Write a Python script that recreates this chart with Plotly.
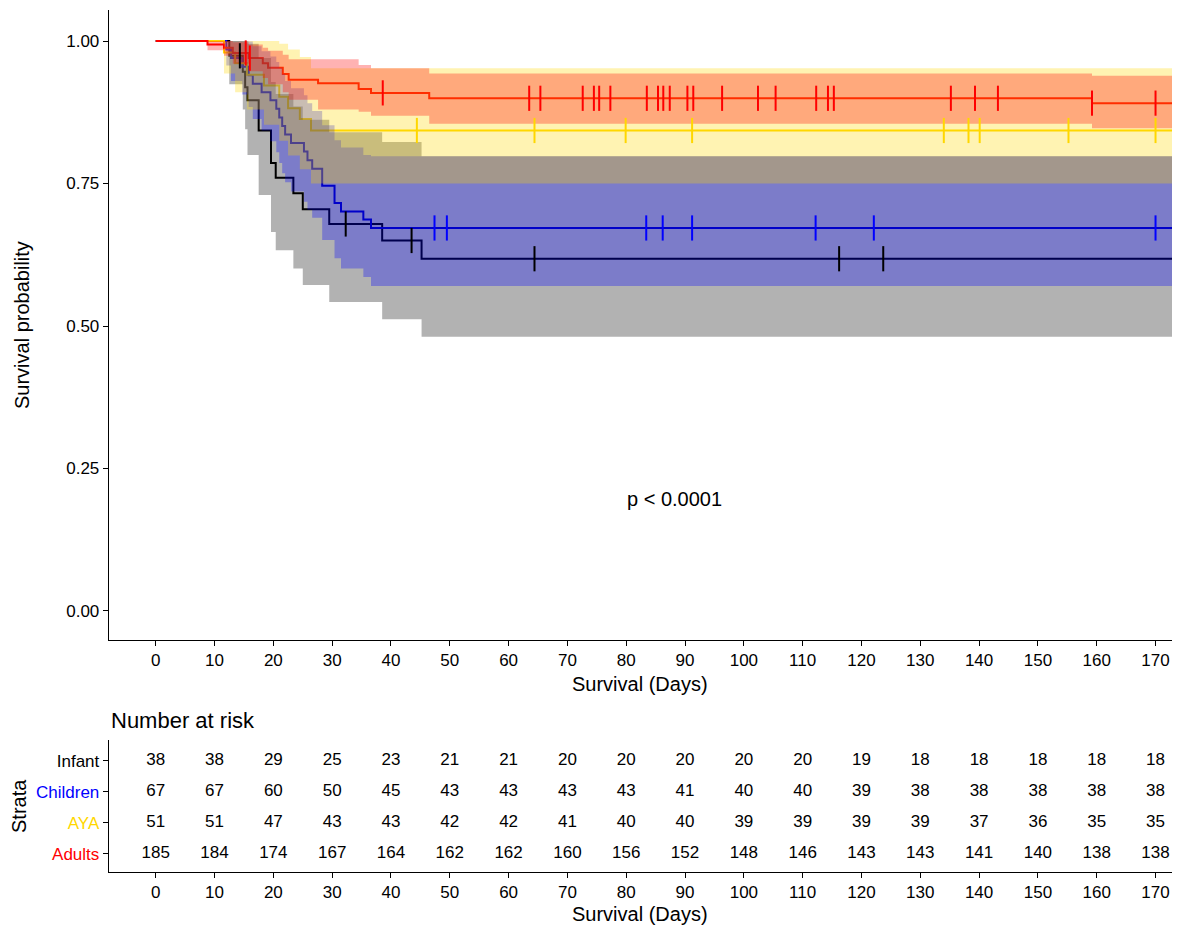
import numpy as np
import plotly.graph_objects as go

# ---------------- data ----------------
strata = ["Infant", "Children", "AYA", "Adults"]

infant_time = [0, 12.5, 14.8, 15.2, 15.6, 17.5, 19.6, 20.4, 23.4, 25.0, 29.5, 38.5, 45.2]
infant_surv = [1.0, 0.974, 0.946, 0.919, 0.896, 0.843, 0.786, 0.760, 0.733, 0.705, 0.679, 0.650, 0.618]
infant_lower = [1.0, 0.924, 0.880, 0.845, 0.800, 0.730, 0.665, 0.633, 0.601, 0.572, 0.542, 0.512, 0.481]
infant_upper = [1.0, 1.0, 1.0, 1.0, 0.995, 0.970, 0.928, 0.907, 0.885, 0.862, 0.840, 0.823, 0.798]
infant_censor = [14.3, 32.3, 43.5, 64.4, 116.2, 123.7]

children_time = [0, 12.0, 12.8, 14.7, 15.8, 16.5, 18.0, 19.5, 20.5, 21.0, 21.5, 22.0, 23.0,
                 25.2, 25.8, 26.6, 28.3, 30.4, 31.5, 35.3, 36.6]
children_surv = [1.0, 0.985, 0.970, 0.955, 0.940, 0.925, 0.910, 0.896, 0.881, 0.866, 0.851, 0.836,
                 0.821, 0.806, 0.791, 0.776, 0.746, 0.716, 0.701, 0.687, 0.672]
children_lower = [1.0, 0.957, 0.930, 0.906, 0.884, 0.863, 0.843, 0.824, 0.805, 0.786, 0.768, 0.752,
                  0.736, 0.718, 0.704, 0.690, 0.651, 0.619, 0.601, 0.586, 0.570]
children_upper = [1.0, 1.0, 1.0, 1.0, 0.999, 0.991, 0.982, 0.973, 0.963, 0.953, 0.942, 0.930,
                  0.917, 0.905, 0.891, 0.877, 0.852, 0.826, 0.813, 0.800, 0.798]
children_censor = [47.4, 49.5, 83.4, 86.2, 91.2, 112.2, 122.1, 170.0]

aya_time = [0, 11.6, 13.5, 15.5, 18.4, 21.0, 22.5, 24.5, 26.4]
aya_surv = [1.0, 0.980, 0.961, 0.941, 0.922, 0.902, 0.882, 0.863, 0.843]
aya_lower = [1.0, 0.943, 0.910, 0.880, 0.853, 0.825, 0.799, 0.775, 0.750]
aya_upper = [1.0, 1.0, 1.0, 1.0, 1.0, 0.995, 0.985, 0.972, 0.952]
aya_censor = [44.4, 64.4, 79.9, 91.2, 134.0, 138.2, 140.1, 155.2, 170.0]

adults_time = [0, 8.8, 11.6, 13.1, 15.8, 18.2, 19.1, 21.6, 22.6, 27.6, 34.5, 36.6, 46.5, 159.2]
adults_surv = [1.0, 0.994, 0.988, 0.979, 0.970, 0.961, 0.953, 0.942, 0.932, 0.926, 0.916, 0.909, 0.8995, 0.891]
adults_lower = [1.0, 0.984, 0.974, 0.960, 0.947, 0.935, 0.924, 0.910, 0.897, 0.880, 0.876, 0.869, 0.855, 0.847]
adults_upper = [1.0, 1.0, 1.0, 0.998, 0.994, 0.988, 0.983, 0.976, 0.968, 0.968, 0.958, 0.952, 0.943, 0.939]
adults_censor = [15.3, 16.0, 38.6, 63.5, 65.4, 72.6, 74.5, 75.4, 77.3, 83.5, 85.4, 86.3, 87.4,
                 90.4, 91.4, 96.3, 102.4, 105.4, 112.3, 114.3, 115.3, 135.2, 139.3, 143.2,
                 159.2, 170.0, 173.0]

risk_times = [0, 10, 20, 30, 40, 50, 60, 70, 80, 90, 100, 110, 120, 130, 140, 150, 160, 170]
risk_infant = [38, 38, 29, 25, 23, 21, 21, 20, 20, 20, 20, 20, 19, 18, 18, 18, 18, 18]
risk_children = [67, 67, 60, 50, 45, 43, 43, 43, 43, 41, 40, 40, 39, 38, 38, 38, 38, 38]
risk_aya = [51, 51, 47, 43, 43, 42, 42, 41, 40, 40, 39, 39, 39, 39, 37, 36, 35, 35]
risk_adults = [185, 184, 174, 167, 164, 162, 162, 160, 156, 152, 148, 146, 143, 143, 141, 140, 138, 138]

y_ticks = [0, 0.25, 0.5, 0.75, 1.0]
y_tick_labels = ["0.00", "0.25", "0.50", "0.75", "1.00"]
p_text = "p < 0.0001"

# ---------------- style ----------------
line_col = {"Infant": "#000000", "Children": "#0000FF", "AYA": "#FFD700", "Adults": "#FF0000"}
fill_col = {"Infant": "rgba(0,0,0,0.3)", "Children": "rgba(0,0,255,0.3)",
            "AYA": "rgba(255,215,0,0.3)", "Adults": "rgba(255,0,0,0.3)"}
curves = {
    "Infant": (infant_time, infant_surv, infant_lower, infant_upper, infant_censor),
    "Children": (children_time, children_surv, children_lower, children_upper, children_censor),
    "AYA": (aya_time, aya_surv, aya_lower, aya_upper, aya_censor),
    "Adults": (adults_time, adults_surv, adults_lower, adults_upper, adults_censor),
}
risk = {"Infant": risk_infant, "Children": risk_children, "AYA": risk_aya, "Adults": risk_adults}
row_pos = {"Infant": 4, "Children": 3, "AYA": 2, "Adults": 1}

X_MAX = 173.0
X_RANGE = [-8.0, 172.8]
FONT = "Liberation Sans, Arial, sans-serif"
W, H = 1178, 926


def ext(t, v):
    return list(t) + [X_MAX], list(v) + [v[-1]]


fig = go.Figure()

# survival lines (drawn first, ribbons on top as in survminer)
for s in strata:
    t, sv, lo, up, cen = curves[s]
    xx, yy = ext(t, sv)
    fig.add_trace(go.Scatter(x=xx, y=yy, mode="lines", line=dict(color=line_col[s], width=2, shape="hv"),
                             hoverinfo="skip", showlegend=False, xaxis="x", yaxis="y"))

# confidence ribbons
for s in strata:
    t, sv, lo, up, cen = curves[s]
    xx, ylo = ext(t, lo)
    _, yup = ext(t, up)
    fig.add_trace(go.Scatter(x=xx, y=ylo, mode="lines", line=dict(width=0, shape="hv", color=fill_col[s]),
                             hoverinfo="skip", showlegend=False, xaxis="x", yaxis="y"))
    fig.add_trace(go.Scatter(x=xx, y=yup, mode="lines", line=dict(width=0, shape="hv", color=fill_col[s]),
                             fill="tonexty", fillcolor=fill_col[s],
                             hoverinfo="skip", showlegend=False, xaxis="x", yaxis="y"))

# censor marks
for s in strata:
    t, sv, lo, up, cen = curves[s]
    idx = np.searchsorted(np.array(t), np.array(cen), side="right") - 1
    cy = np.array(sv)[idx]
    fig.add_trace(go.Scatter(x=cen, y=cy, mode="markers",
                             marker=dict(symbol="line-ns", size=18,
                                         line=dict(color=line_col[s], width=2)),
                             hoverinfo="skip", showlegend=False, cliponaxis=False,
                             xaxis="x", yaxis="y"))

# risk table text
for s in strata:
    fig.add_trace(go.Scatter(x=risk_times, y=[row_pos[s]] * len(risk_times), mode="text",
                             text=[str(v) for v in risk[s]],
                             textfont=dict(family=FONT, size=17, color="black"),
                             hoverinfo="skip", showlegend=False, cliponaxis=False,
                             xaxis="x2", yaxis="y2"))

axis_common = dict(showline=True, linecolor="black", linewidth=1, ticks="outside", ticklen=5,
                   tickcolor="black", tickwidth=1, showgrid=False, zeroline=False,
                   tickfont=dict(family=FONT, size=17, color="black"))

x_dom = [108.7 / W, 1172 / W]
fig.update_layout(
    width=W, height=H, margin=dict(l=0, r=0, t=0, b=0),
    paper_bgcolor="white", plot_bgcolor="white",
    showlegend=False,
    xaxis=dict(domain=x_dom, range=X_RANGE, tickvals=risk_times, anchor="y", **axis_common),
    yaxis=dict(domain=[1 - 640 / H, 1 - 10 / H], range=[-0.0509, 1.0544], tickvals=y_ticks,
               ticktext=y_tick_labels, anchor="x", **axis_common),
    xaxis2=dict(domain=x_dom, range=X_RANGE, tickvals=risk_times, anchor="y2", **axis_common),
    yaxis2=dict(domain=[1 - 872 / H, 1 - 740 / H], range=[0.42, 4.66],
                tickvals=[row_pos[s] for s in strata],
                ticktext=['<span style="color:%s">%s</span>' % (c, s) for s, c in
                          zip(strata, ["#000000", "#0000FF", "#FFD700", "#FF0000"])],
                anchor="x2", **axis_common),
)

ann_font = dict(family=FONT, size=20, color="black")


def ann(x, y, text, size=20, angle=0, xanchor="center", xref="paper", yref="paper"):
    fig.add_annotation(x=x, y=y, xref=xref, yref=yref, text=text, showarrow=False,
                       textangle=angle, xanchor=xanchor, yanchor="middle",
                       font=dict(family=FONT, size=size, color="black"))


ann(88.2, 0.196, p_text, xref="x", yref="y")
ann(640 / W, 1 - 684 / H, "Survival (Days)")
ann(22 / W, 1 - 325 / H, "Survival probability", angle=-90)
ann(109 / W, 1 - 720 / H, "Number at risk", size=22, xanchor="left")
ann(19 / W, 1 - 806 / H, "Strata", angle=-90)
ann(640 / W, 1 - 914 / H, "Survival (Days)")

fig.write_html("out.html")
